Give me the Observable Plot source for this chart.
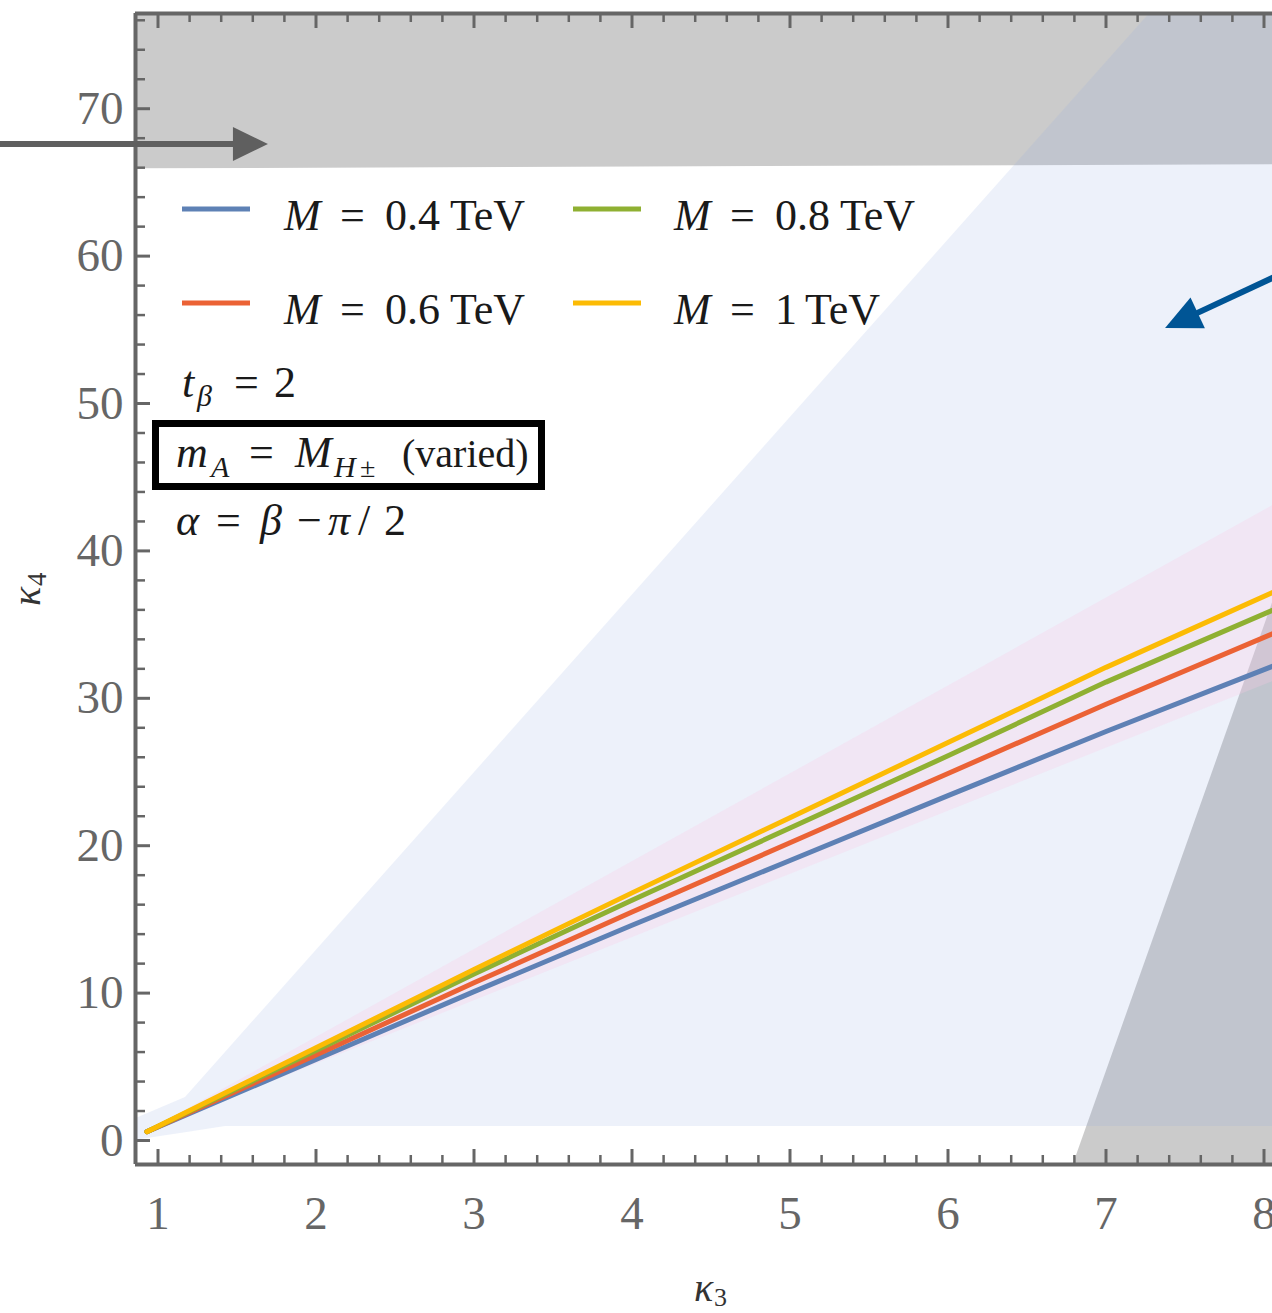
<!DOCTYPE html>
<html><head><meta charset="utf-8">
<script src="https://cdn.jsdelivr.net/npm/d3@7"></script>
<script src="https://cdn.jsdelivr.net/npm/@observablehq/plot@0.6"></script>
<style>
body{margin:0;background:#fff}
#chart{width:1272px;height:1313px}
</style>
</head><body><div id="chart"></div>
<script>
// ---------- data ----------
const k3Grid = [0.93, 2, 3, 4, 5, 6, 7, 8.06];
const k4_M04 = [0.6, 5.5, 10.1, 14.6, 19.0, 23.4, 27.75, 32.2];
const k4_M06 = [0.6, 5.8, 10.7, 15.5, 20.2, 24.9, 29.6, 34.4];
const k4_M08 = [0.6, 6.1, 11.3, 16.3, 21.2, 26.1, 31.1, 36.0];
const k4_M10 = [0.6, 6.3, 11.6, 16.8, 21.9, 27.0, 32.1, 37.2];
const seriesLabels = ["0.4", "0.6", "0.8", "1"];
const seriesColors = ["#5e81b5", "#eb6235", "#8fb032", "#fcbb04"];

// excluded (gray) band at the top
const topBandK3 = [0.85, 8.06];
const topBandLow = [65.92, 66.2];
const topBandHigh = [77, 77];
// excluded (gray) wedge bottom right
const wedgeK3 = [6.781, 8.06];
const wedgeLow = [-2, -2];
const wedgeHigh = [-2, 36.65];
// allowed (light blue) region
const allowedK3 = [0.85, 1.174, 1.427, 7.28, 8.06];
const allowedLow = [0.0, 0.53, 0.95, 0.95, 0.95];
const allowedHigh = [1.44, 2.92, 5.97, 76.5, 77];
// pink band around the curves
const pinkK3 = [0.93, 8.06];
const pinkLow = [0.6, 31.15];
const pinkHigh = [0.6, 43.1];

// ticks
const xMajor = [1, 2, 3, 4, 5, 6, 7, 8];
const xMinor = d3.range(1, 8.05, 0.2).map(v => +v.toFixed(1)).filter(v => !xMajor.includes(v));
const yMajor = [0, 10, 20, 30, 40, 50, 60, 70];
const yMinor = d3.range(2, 77, 2).filter(v => v % 10 !== 0);

// ---------- build tables ----------
const seriesArrays = [k4_M04, k4_M06, k4_M08, k4_M10];
const curves = seriesArrays.flatMap((arr, s) => arr.map((v, i) => ({k3: k3Grid[i], k4: v, s})));
const mkArea = (xs, lo, hi) => xs.map((x, i) => ({x, lo: lo[i], hi: hi[i]}));

const W = 1272, H = 1313;
const mL = 135, mR = 0, mT = 13, mB = 149;
const innerH = H - mT - mB, innerW = W - mL - mR;
const frameColor = "#666";
const serif = "'Liberation Serif', 'DejaVu Serif', serif";

const plot = Plot.plot({
  width: W, height: H,
  marginLeft: mL, marginRight: mR, marginTop: mT, marginBottom: mB,
  style: {fontFamily: serif, background: "#fff"},
  x: {domain: [0.8576, 8.0538]},
  y: {domain: [-1.628, 76.46]},
  marks: [
    Plot.areaY(mkArea(topBandK3, topBandLow, topBandHigh), {x: "x", y1: "lo", y2: "hi", fill: "#cbcbcb", clip: true}),
    Plot.areaY(mkArea(wedgeK3, wedgeLow, wedgeHigh), {x: "x", y1: "lo", y2: "hi", fill: "#cbcbcb", clip: true}),
    Plot.areaY(mkArea(allowedK3, allowedLow, allowedHigh), {x: "x", y1: "lo", y2: "hi", fill: "rgb(150,170,225)", fillOpacity: 0.17, clip: true}),
    Plot.areaY(mkArea(pinkK3, pinkLow, pinkHigh), {x: "x", y1: "lo", y2: "hi", fill: "rgb(250,200,230)", fillOpacity: 0.28, clip: true}),
    ...seriesArrays.map((arr, s) => Plot.line(curves.filter(d => d.s === s), {x: "k3", y: "k4", stroke: seriesColors[s], strokeWidth: 5, clip: true})),
    // inward ticks
    Plot.tickX(xMajor, {x: d => d, insetTop: innerH - 15, stroke: frameColor, strokeWidth: 3}),
    Plot.tickX(xMinor, {x: d => d, insetTop: innerH - 9, stroke: frameColor, strokeWidth: 2.5}),
    Plot.tickX(xMajor, {x: d => d, insetBottom: innerH - 15, stroke: frameColor, strokeWidth: 3}),
    Plot.tickX(xMinor, {x: d => d, insetBottom: innerH - 9, stroke: frameColor, strokeWidth: 2.5}),
    Plot.tickY(yMajor, {y: d => d, insetRight: innerW - 15, stroke: frameColor, strokeWidth: 3}),
    Plot.tickY(yMinor, {y: d => d, insetRight: innerW - 10, stroke: frameColor, strokeWidth: 2.5}),
    // frame (left, bottom, top)
    Plot.ruleX([0.8576], {stroke: frameColor, strokeWidth: 4}),
    Plot.ruleY([-1.628, 76.46], {stroke: frameColor, strokeWidth: 4}),
    Plot.axisX({ticks: xMajor, tickSize: 0, tickPadding: 31, fontSize: 47, fontFamily: serif, color: frameColor, label: null, tickFormat: d => String(d)}),
    Plot.axisY({ticks: yMajor, tickSize: 0, tickPadding: 12, fontSize: 47, fontFamily: serif, color: frameColor, label: null, tickFormat: d => String(d)})
  ]
});
document.getElementById("chart").appendChild(plot);

// ---------- annotations ----------
const svg = d3.select(plot);
const sx = plot.scale("x").apply, sy = plot.scale("y").apply;
const g = svg.append("g").attr("font-family", serif).attr("text-anchor", "start");

function mathText(parent, y, size, parts, fill = "#1a1a1a") {
  const t = parent.append("text").attr("y", y).attr("font-size", size).attr("fill", fill).attr("text-anchor", "start");
  let off = 0;
  for (const p of parts) {
    const s = t.append("tspan").text(p.t);
    if (p.x !== undefined) s.attr("x", p.x);
    if (p.i) s.attr("font-style", "italic");
    if (p.size) s.attr("font-size", p.size);
    const o = p.off || 0;
    if (o !== off) { s.attr("dy", o - off); off = o; }
  }
  return t;
}

// legend
const legendCols = [182, 573], legendRows = [209, 303];
const textOffsets = [[102, 158, 203, 268], [101, 157, 202, 267]];
seriesLabels.forEach((lab, s) => {
  const col = s >> 1, row = s & 1;
  const x0 = legendCols[col], y0 = legendRows[row];
  g.append("line").attr("x1", x0).attr("x2", x0 + 68).attr("y1", y0).attr("y2", y0)
    .attr("stroke", seriesColors[s]).attr("stroke-width", 5);
  const o = textOffsets[col];
  const tevX = lab === "1" ? x0 + o[2] + 30 : x0 + o[3];
  mathText(g, y0 + 21, 44, [
    {t: "M", i: true, x: x0 + o[0]},
    {t: "=", x: x0 + o[1]},
    {t: lab, x: x0 + o[2]},
    {t: "TeV", x: tevX}
  ]);
});

mathText(g, 397, 44, [
  {t: "t", i: true, x: 182},
  {t: "β", i: true, size: 30, off: 9, x: 197},
  {t: "=", x: 234},
  {t: "2", x: 274}
]);
g.append("rect").attr("x", 155.5).attr("y", 423.5).attr("width", 386).attr("height", 63)
  .attr("fill", "none").attr("stroke", "#000").attr("stroke-width", 7);
mathText(g, 467, 44, [
  {t: "m", i: true, x: 176},
  {t: "A", i: true, size: 30, off: 10, x: 211},
  {t: "=", x: 249},
  {t: "M", i: true, x: 295},
  {t: "H", i: true, size: 30, off: 10, x: 334},
  {t: "±", size: 28, off: 10, x: 360},
  {t: "(varied)", size: 40, x: 402}
]);
mathText(g, 535, 44, [
  {t: "α", i: true, x: 176},
  {t: "=", x: 216},
  {t: "β", i: true, x: 260},
  {t: "−", x: 297},
  {t: "π", i: true, x: 328},
  {t: "/", x: 358},
  {t: "2", x: 384}
]);

// axis labels
mathText(g, 1301, 40, [
  {t: "κ", i: true, x: 694},
  {t: "3", size: 26, off: 5, x: 714}
], "#333");
const yl = g.append("g").attr("transform", "translate(40,606) rotate(-90)");
mathText(yl, 0, 40, [
  {t: "κ", i: true, x: 0},
  {t: "4", size: 27, off: 6, x: 20}
], "#333");

// arrows (positions in data coordinates through the plot scales)
function arrow(from, to, color, width, headLen, headHalf) {
  const x1 = sx(from[0]), y1 = sy(from[1]), x2 = sx(to[0]), y2 = sy(to[1]);
  const dx = x2 - x1, dy = y2 - y1, L = Math.hypot(dx, dy);
  const ux = dx / L, uy = dy / L;
  const bx = x2 - ux * headLen, by = y2 - uy * headLen;
  g.append("line").attr("x1", x1).attr("y1", y1).attr("x2", bx + ux * 2).attr("y2", by + uy * 2)
    .attr("stroke", color).attr("stroke-width", width);
  g.append("path").attr("fill", color)
    .attr("d", `M${x2},${y2}L${bx - uy * headHalf},${by + ux * headHalf}L${bx + uy * headHalf},${by - ux * headHalf}Z`);
}
arrow([0.0, 67.57], [1.699, 67.57], "#5f5f5f", 6, 35, 17);
arrow([8.2, 59.2], [7.377, 55.09], "#005595", 6, 36, 17);
</script>
</body></html>
